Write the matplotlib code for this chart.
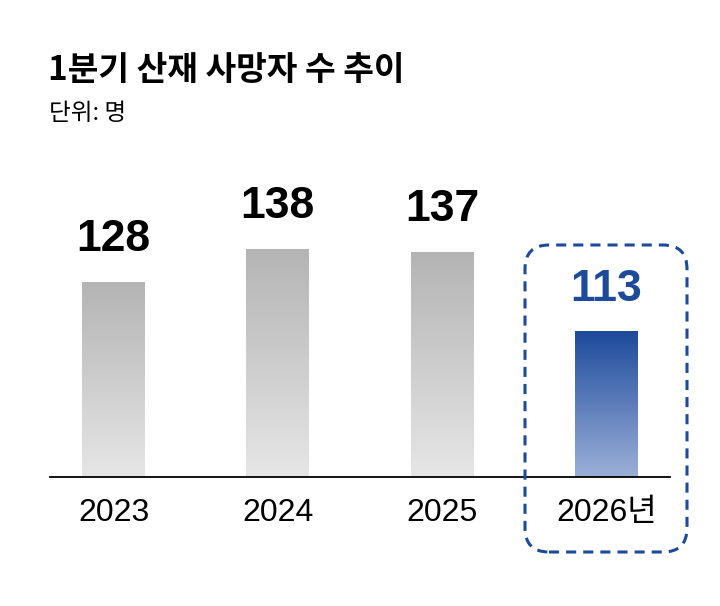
import numpy as np
import matplotlib.pyplot as plt
from matplotlib.colors import LinearSegmentedColormap
from matplotlib.patches import FancyBboxPatch

years = ["2023", "2024", "2025", "2026년"]
deaths = [128, 138, 137, 113]
highlight = [False, False, False, True]

title = "1분기 산재 사망자 수 추이"
unit = "단위: 명"

BLUE = "#1d4a9b"
num_font = ["Liberation Sans", "Noto Sans CJK KR"]
kr_font = ["Noto Sans CJK KR", "DejaVu Sans"]

gray_cmap = LinearSegmentedColormap.from_list("g", ["#e6e6e6", "#b4b4b4"])
blue_cmap = LinearSegmentedColormap.from_list("b", ["#9cb0d8", "#1e4a9c"])

W, H = 720, 606
fig = plt.figure(figsize=(W / 100, H / 100), dpi=100)

# axes: baseline at y=477px, spine from x=50 to x=670
ax_left, ax_right, ax_bottom, ax_top = 50, 670, 477, 150
ax = fig.add_axes([ax_left / W, (H - ax_bottom) / H,
                   (ax_right - ax_left) / W, (ax_bottom - ax_top) / H])

px_per_unit = 3.3
y0 = 69
step = 164.3
first = 113.5
bw = 63 / step

grad = np.linspace(0, 1, 256).reshape(-1, 1)
for i, (v, hl) in enumerate(zip(deaths, highlight)):
    cmap = blue_cmap if hl else gray_cmap
    ax.imshow(grad, cmap=cmap, origin="lower", aspect="auto",
              extent=[i - bw / 2, i + bw / 2, y0, v], interpolation="bicubic", zorder=2)
    ax.annotate(str(v), (i, v), xytext=(0, 16), textcoords="offset points",
                ha="center", va="bottom", fontsize=32, fontweight="bold",
                family=num_font, color=BLUE if hl else "black")

ax.set_xlim((ax_left - first) / step, (ax_right - first) / step)
ax.set_ylim(y0, y0 + (ax_bottom - ax_top) / px_per_unit)

ax.set_xticks(range(len(years)))
ax.set_xticklabels(years, family=num_font, fontsize=23)
ax.tick_params(axis="x", length=0, pad=15)
ax.set_yticks([])
for s in ["left", "right", "top"]:
    ax.spines[s].set_visible(False)
ax.spines["bottom"].set_linewidth(1.3)
ax.spines["bottom"].set_zorder(3)

# dashed highlight box around the last bar
box = FancyBboxPatch((5.25, (H - 552) / 100), 1.62, 3.07,
                     boxstyle="round,pad=0,rounding_size=0.24",
                     transform=fig.dpi_scale_trans, fill=False,
                     edgecolor=BLUE, linewidth=2.2, linestyle=(0, (3.3, 2.3)))
fig.add_artist(box)

fig.text(48 / W, 1 - 80 / H, title, family=kr_font, fontsize=24,
         fontweight="bold", ha="left", va="baseline")
fig.text(49 / W, 1 - 120 / H, unit, family=kr_font, fontsize=17,
         ha="left", va="baseline")

fig.savefig("out.png", dpi=100)
